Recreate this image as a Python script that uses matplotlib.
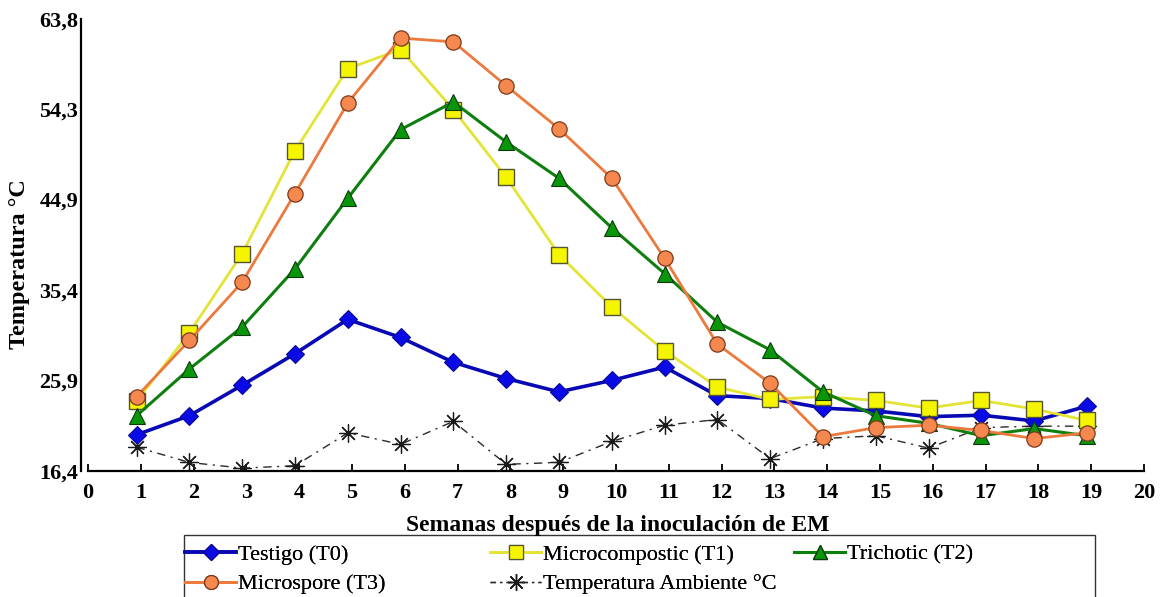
import numpy as np
import matplotlib
matplotlib.use("Agg")
import matplotlib.pyplot as plt
from matplotlib.lines import Line2D
from matplotlib.patches import Rectangle

plt.rcParams['font.family'] = ['Liberation Serif', 'DejaVu Serif']

# weeks after EM inoculation
weeks = list(range(1, 20))

testigo = [20.2, 22.2, 25.4, 28.7, 32.3, 30.4, 27.8, 26.1, 24.7, 25.9,
           27.3, 24.3, 24.0, 23.0, 22.7, 22.1, 22.25, 21.65, 23.2]
microcompostic = [23.7, 30.9, 39.2, 50.0, 58.6, 60.6, 54.3, 47.2, 39.1, 33.6,
                  29.0, 25.2, 23.9, 24.2, 23.8, 23.0, 23.8, 22.9, 21.7]
trichotic = [22.2, 27.1, 31.5, 37.6, 45.0, 52.2, 55.1, 50.9, 47.1, 41.9,
             37.1, 32.0, 29.1, 24.7, 22.2, 21.4, 20.1, 20.85, 20.1]
microspore = [24.2, 30.1, 36.2, 45.5, 55.0, 61.8, 61.4, 56.8, 52.3, 47.1,
              38.7, 29.7, 25.6, 20.0, 20.95, 21.2, 20.65, 19.8, 20.4]
ambiente = [18.9, 17.3, 16.7, 16.95, 20.4, 19.2, 21.6, 17.1, 17.3, 19.5,
            21.2, 21.8, 17.7, 19.8, 20.1, 18.8, 20.95, 21.1, 21.1]

ytick_vals = [16.4, 25.9, 35.4, 44.9, 54.3, 63.8]
ytick_labels = ['16,4', '25,9', '35,4', '44,9', '54,3', '63,8']
xtick_vals = list(range(0, 21))

W, H = 1163, 597
fig = plt.figure(figsize=(W / 100, H / 100), dpi=100)
ax = fig.add_axes([88 / W, 1 - 471 / H, (1144 - 88) / W, (471 - 19) / H])

x = np.array(weeks) - 0.08

ax.plot(x, ambiente, color='#2a2a2a', lw=1.0, dashes=(6, 4, 1.5, 4),
        marker=(8, 2, 0), ms=13, mec='#1a1a1a', mew=0.9, zorder=2)
ax.plot(x, testigo, color='#0808B4', lw=2.6, marker='D', ms=9,
        mfc='#0A0AE6', mec='#0A0A90', mew=0.8, zorder=3)
ax.plot(x, microcompostic, color='#E4E436', lw=2.0, marker='s', ms=11,
        mfc='#F5F500', mec='#555533', mew=1.0, zorder=3)
ax.plot(x, trichotic, color='#0E7F0E', lw=2.2, marker='^', ms=11,
        mfc='#0A960A', mec='#0A3A0A', mew=0.8, zorder=3)
ax.plot(x, microspore, color='#EC7A3E', lw=2.0, marker='o', ms=11,
        mfc='#F4884E', mec='#7A3A1A', mew=0.9, zorder=4)

ax.spines['top'].set_visible(False)
ax.spines['right'].set_visible(False)
ax.spines['left'].set_position(('outward', 5))
ax.spines['left'].set_linewidth(1.6)
ax.spines['bottom'].set_linewidth(1.6)

ax.set_xlim(0, 20)
ax.set_ylim(16.4, 63.8)
ax.set_xticks(xtick_vals)
ax.set_yticks(ytick_vals)
ax.set_yticklabels(ytick_labels)
ax.tick_params(axis='x', direction='in', length=5, width=1.3, pad=9, labelsize=16)
ax.tick_params(axis='y', direction='in', length=0, pad=2, labelsize=16)
for lab in ax.get_xticklabels() + ax.get_yticklabels():
    lab.set_fontweight('bold')

fig.text(20 / W, 1 - 264 / H, 'Temperatura °C', rotation=90, ha='center',
         va='center', fontsize=17.5, fontweight='bold')
fig.text(618 / W, 1 - 526 / H, 'Semanas después de la inoculación de EM',
         ha='center', va='center', fontsize=17, fontweight='bold')

# legend, laid out like the original boxed 3-column legend
def handle(color, lw, marker, ms, mfc, mec, dashes=None):
    h = Line2D([], [], color=color, lw=lw, marker=marker, ms=ms, mfc=mfc, mec=mec, mew=0.9)
    if dashes:
        h.set_dashes(dashes)
    return h

h_t0 = handle('#0808B4', 2.6, 'D', 8, '#0A0AE6', '#0A0A90')
h_t1 = handle('#E4E436', 2.0, 's', 10, '#F5F500', '#555533')
h_t2 = handle('#0E7F0E', 2.2, '^', 10, '#0A960A', '#0A3A0A')
h_t3 = handle('#EC7A3E', 2.0, 'o', 10, '#F4884E', '#7A3A1A')
h_amb = handle('#2a2a2a', 1.0, (8, 2, 0), 12, '#1a1a1a', '#1a1a1a', dashes=(4, 3, 1.5, 3))

cols = [
    ([h_t0, h_t3], ['Testigo (T0)', 'Microspore (T3)'], 185),
    ([h_t1, h_amb], ['Microcompostic (T1)', 'Temperatura Ambiente °C'], 490),
    ([h_t2], ['Trichotic (T2)'], 794),
]
for hs, labs, xpx in cols:
    leg = fig.legend(hs, labs, loc='upper left', bbox_to_anchor=(xpx / W, 1 - 544 / H),
                     frameon=False, fontsize=16, handlelength=2.3, handletextpad=0.1,
                     borderpad=0, borderaxespad=0, labelspacing=0.42)
    fig.add_artist(leg)

fig.add_artist(Rectangle((184 / W, -0.01), (1095 - 184) / W, 1 - 535 / H + 0.01,
                         transform=fig.transFigure, fill=False, lw=1.0,
                         edgecolor='#333333'))

fig.savefig('out.png', dpi=100)
